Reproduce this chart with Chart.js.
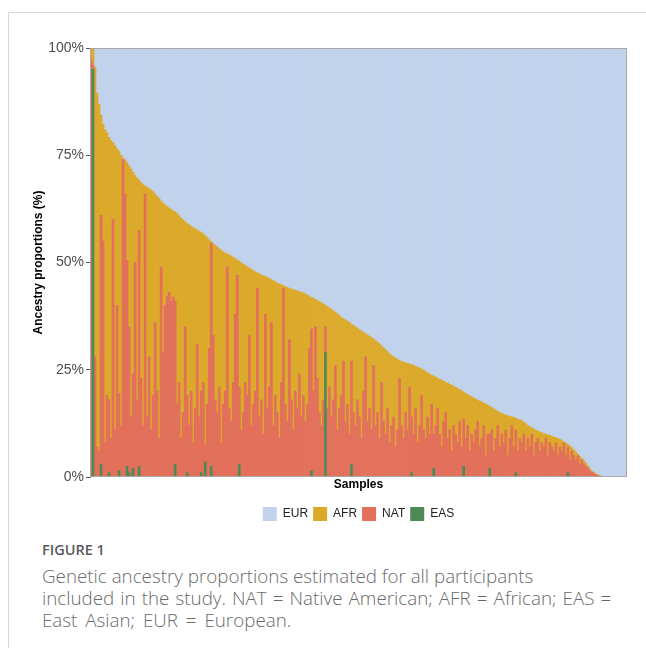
<!DOCTYPE html>
<html>
<head>
<meta charset="utf-8">
<script src="https://cdn.jsdelivr.net/npm/chart.js@4/dist/chart.umd.min.js"></script>
<style>
  html, body { margin: 0; padding: 0; background: #ffffff; }
  body { width: 646px; height: 652px; position: relative; overflow: hidden; }
  #frame { position: absolute; left: 8px; top: 12px; right: 0; bottom: 4px;
           border-top: 1px solid #d6d6d6; border-left: 1px solid #d6d6d6; }
  #chart { position: absolute; left: 0; top: 0; }
  #figlabel { position: absolute; left: 42px; top: 540px; font-family: "Open Sans", sans-serif;
              font-weight: 600; font-size: 14.5px; color: #5a5a5a; }
  #caption { position: absolute; left: 42px; top: 565px; font-family: "Open Sans", sans-serif;
             font-weight: 300; font-size: 18.8px; line-height: 22.2px; color: #6a6a6a; white-space: nowrap; }
  .l2 { word-spacing: 1.2px; }
  .l3 { word-spacing: 3px; }
</style>
</head>
<body>
<div id="frame"></div>
<canvas id="chart" width="646" height="540"></canvas>
<div id="figlabel">FIGURE 1</div>
<div id="caption">Genetic ancestry proportions estimated for all participants<br><span class="l2">included in the study. NAT = Native American; AFR = African; EAS =</span><br><span class="l3">East Asian; EUR = European.</span></div>
<script>
// ---- Data (percent per sample, samples ordered as in the figure) ----
const seriesNames = ["EUR", "AFR", "NAT", "EAS"];
const yTickLabels = ["0%", "25%", "50%", "75%", "100%"];

const EUR = [0,0,4.5,10.5,13.2,15.7,17.7,19.0,19.8,20.8,
 21.6,22.1,22.8,23.5,24.1,25.0,25.6,26.1,26.7,27.5,
 28.2,29.0,29.7,30.3,30.8,31.4,31.9,32.2,32.5,32.8,
 33.1,33.5,34.1,34.6,35.1,35.7,36.2,36.6,37.0,37.3,
 37.6,38.0,38.2,38.6,39.1,39.7,40.1,40.5,40.9,41.2,
 41.6,41.9,42.1,42.4,42.7,43.0,43.3,43.7,44.2,44.7,
 45.2,45.6,46.0,46.4,46.8,47.2,47.5,47.8,48.0,48.2,
 48.5,48.8,49.1,49.4,49.7,50.1,50.4,50.7,51.0,51.3,
 51.6,51.9,52.2,52.4,52.6,52.9,53.1,53.3,53.5,53.7,
 54.0,54.2,54.5,54.8,55.0,55.2,55.4,55.6,55.8,56.0,
 56.2,56.3,56.5,56.6,56.8,56.9,57.1,57.3,57.6,57.9,
 58.1,58.4,58.6,58.9,59.1,59.4,59.7,60.0,60.3,60.6,
 60.9,61.3,61.7,62.0,62.4,62.8,63.1,63.4,63.7,64.0,
 64.4,64.7,65.0,65.3,65.7,66.0,66.3,66.6,66.9,67.2,
 67.5,67.8,68.2,68.6,69.0,69.4,69.9,70.3,70.8,71.3,
 71.7,72.0,72.3,72.6,72.9,73.1,73.2,73.4,73.5,73.7,
 73.8,73.9,74.2,74.4,74.6,74.8,75.1,75.4,75.7,76.0,
 76.3,76.5,76.7,77.0,77.2,77.4,77.7,77.9,78.1,78.4,
 78.6,78.8,79.1,79.4,79.6,79.9,80.2,80.5,80.8,81.1,
 81.3,81.6,81.8,82.1,82.3,82.5,82.8,83.0,83.3,83.5,
 83.8,84.1,84.4,84.7,85.0,85.2,85.4,85.6,85.7,85.9,
 86.0,86.1,86.3,86.5,86.7,86.9,87.2,87.6,88.0,88.3,
 88.5,88.8,89.1,89.3,89.5,89.7,89.9,90.0,90.2,90.3,
 90.5,90.7,90.8,91.0,91.2,91.5,91.8,92.1,92.4,92.8,
 93.2,93.7,94.2,94.7,95.2,95.7,96.2,96.8,97.4,98.1,
 98.7,99.0,99.3,99.5,99.7,99.9,100,100,100,100,
 100,100,100,100,100,100,100,100];

const NAT = [97,1,28,7,6,58,55,8,19,17,
 9,60,11,40,18,12,74,66,48,34,
 14,22,50,18,55,23,12,66,14,28,
 11,19,36,20,9,49,29,40,42,43,
 41,42,38,17,22,9,15,35,18,12,
 20,8,16,31,14,19,22,4,17,30,
 52,33,18,15,21,8,17,20,49,16,
 13,22,38,47,18,11,15,22,19,33,
 12,17,20,44,14,18,10,38,16,21,
 36,12,19,15,9,22,44,17,13,32,
 18,11,20,16,24,14,19,13,17,30,
 33,20,35,23,15,12,18,6,16,21,
 14,18,26,11,16,19,27,13,17,10,
 24,15,12,18,14,9,20,28,13,16,
 11,26,12,15,9,22,13,10,16,8,
 12,14,7,11,23,12,9,15,11,21,
 13,10,16,8,12,19,11,9,14,10,
 17,8,12,16,10,7,13,15,9,11,
 6,12,10,8,13,7,11,9,12,6,
 10,8,11,13,7,9,12,5,10,8,
 11,6,9,12,7,10,8,11,5,9,
 12,7,10,6,9,8,10,6,9,7,
 10,5,8,9,6,8,7,9,5,8,
 7,6,8,5,7,6,8,5,6,4,
 6,5,4,5,3,4,3,2.5,2.2,1.5,
 1.1,0.8,0.5,0.3,0.2,0.1,0,0,0,0,
 0,0,0,0,0,0,0,0];

const EAS = [0,95,0,0,0,3,0,0,0,1,
 0,0,0,0,1.5,0,0,0,2.5,1,
 0,2,0,0,2.5,0,0,0,0,0,
 0,0,0,0,0,0,0,0,0,0,
 0,0,3,0,0,0,0,0,1,0,
 0,0,0,0,0,1,0,3.5,0,0,
 2.5,0,0,0,0,0,0,0,0,0,
 0,0,0,0,3,0,0,0,0,0,
 0,0,0,0,0,0,0,0,0,0,
 0,0,0,0,0,0,0,0,0,0,
 0,0,0,0,0,0,0,0,0,0,
 1.5,0,0,0,0,0,0,29,0,0,
 0,0,0,0,0,0,0,0,0,0,
 3,0,0,0,0,0,0,0,0,0,
 0,0,0,0,0,0,0,0,0,0,
 0,0,0,0,0,0,0,0,0,0,
 1,0,0,0,0,0,0,0,0,0,
 0,2,0,0,0,0,0,0,0,0,
 0,0,0,0,0,0,2.5,0,0,0,
 0,0,0,0,0,0,0,0,0,2,
 0,0,0,0,0,0,0,0,0,0,
 0,0,1,0,0,0,0,0,0,0,
 0,0,0,0,0,0,0,0,0,0,
 0,0,0,0,0,0,0,0,1,0,
 0,0,0,0,0,0,0,0,0,0,
 0,0,0,0,0,0,0,0,0,0,
 0,0,0,0,0,0,0,0];

// AFR is the remaining share of each sample (proportions sum to 100%)
const AFR = EUR.map((e, i) => Math.max(0, +(100 - e - NAT[i] - EAS[i]).toFixed(2)));
const samples = EUR.map((_, i) => "S" + (i + 1));

const colors = { EUR: "#c1d2ec", AFR: "#dcaa2b", NAT: "#e2705a", EAS: "#4f8a56" };

const frameBorder = {
  id: "frameBorder",
  afterDatasetsDraw(chart) {
    const a = chart.chartArea, ctx = chart.ctx;
    ctx.save();
    ctx.strokeStyle = "#a8a8a8";
    ctx.lineWidth = 1;
    ctx.strokeRect(a.left + 0.5, a.top + 0.5, a.right - a.left - 1, a.bottom - a.top - 1);
    ctx.restore();
  }
};

Chart.defaults.font.family = '"Liberation Sans", Arial, Helvetica, sans-serif';

new Chart(document.getElementById("chart"), {
  type: "bar",
  data: {
    labels: samples,
    datasets: [
      { label: "EAS", data: EAS, backgroundColor: colors.EAS },
      { label: "NAT", data: NAT, backgroundColor: colors.NAT },
      { label: "AFR", data: AFR, backgroundColor: colors.AFR },
      { label: "EUR", data: EUR, backgroundColor: colors.EUR }
    ]
  },
  options: {
    responsive: false,
    animation: false,
    devicePixelRatio: 1,
    datasets: { bar: { categoryPercentage: 1, barPercentage: 1, borderWidth: 0 } },
    layout: { padding: { left: 0, right: 19, top: 48, bottom: 9 } },
    plugins: {
      tooltip: { enabled: false },
      legend: {
        position: "bottom",
        fullSize: false,
        reverse: true,
        labels: { boxWidth: 14, boxHeight: 14, padding: 5, color: "#222",
                  font: { size: 12 } }
      }
    },
    scales: {
      x: {
        stacked: true,
        grid: { display: false },
        border: { display: false },
        ticks: { display: false },
        title: { display: true, text: "Samples", color: "#000",
                 font: { size: 12, weight: "bold" }, padding: { top: 0, bottom: 10 } },
        afterFit(scale) { scale.height = 25; }
      },
      y: {
        stacked: true,
        min: 0, max: 100,
        grid: { drawOnChartArea: false, drawTicks: true, tickLength: 4, color: "#555" },
        border: { display: true, color: "#888" },
        ticks: { stepSize: 25, padding: 2, color: "#4d4d4d", font: { size: 14 },
                 callback: (v) => yTickLabels[v / 25] },
        title: { display: true, text: "Ancestry proportions (%)", color: "#000",
                 font: { size: 12, weight: "bold" }, padding: { top: 31, bottom: 0 } },
        afterFit(scale) { scale.width = 90; }
      }
    }
  },
  plugins: [frameBorder]
});
</script>
</body>
</html>
